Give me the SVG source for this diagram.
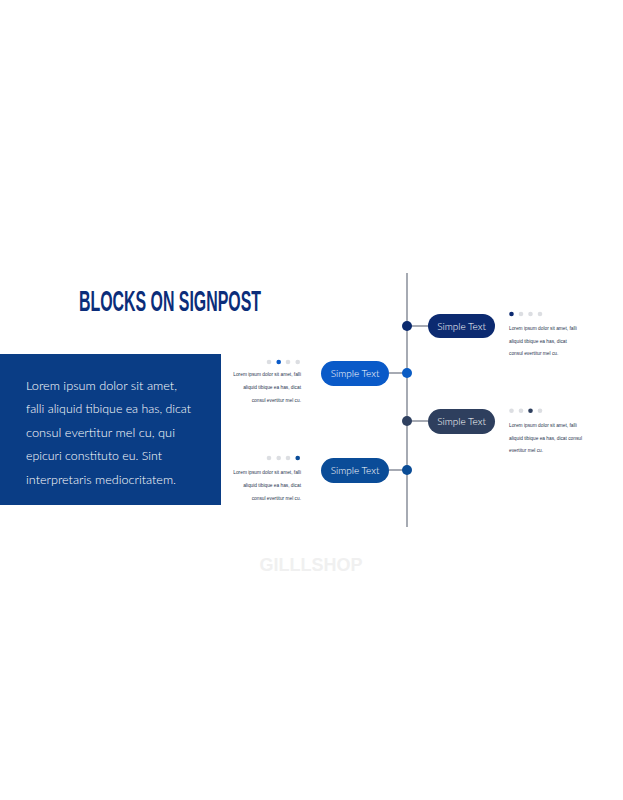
<svg xmlns="http://www.w3.org/2000/svg" width="623" height="800" viewBox="0 0 623 800">
<style>
.title{font-family:"Liberation Sans",Arial,sans-serif;font-weight:bold;font-size:30px;fill:#0b2d7a}
.body{font-family:Lato,"Liberation Sans",sans-serif;font-weight:300;font-size:12.5px;fill:#ffffff}
.pill{font-family:Lato,"Liberation Sans",sans-serif;font-weight:300;font-size:10px;fill:#ffffff}
.small{font-family:"Liberation Sans",Arial,sans-serif;font-size:4.8px;fill:#2a3550}
.gray{fill:#dcdee2}
.wm{font-family:"Liberation Sans",Arial,sans-serif;font-weight:bold;font-size:18px;fill:#f0f0f0}
.conn{stroke:#6b7280;stroke-width:1.2;fill:none}
</style>
<rect width="623" height="800" fill="#ffffff"/>
<text class="title" x="79" y="311" textLength="182" lengthAdjust="spacingAndGlyphs">BLOCKS ON SIGNPOST</text>
<g id="intro">
<rect x="0" y="354" width="221" height="151" fill="#0a3d85"/>
<text class="body" x="26" y="390" textLength="151" lengthAdjust="spacingAndGlyphs">Lorem ipsum dolor sit amet,</text>
<text class="body" x="26" y="413" textLength="165" lengthAdjust="spacingAndGlyphs">falli aliquid tibique ea has, dicat</text>
<text class="body" x="26" y="437" textLength="149" lengthAdjust="spacingAndGlyphs">consul evertitur mel cu, qui</text>
<text class="body" x="26" y="460" textLength="136" lengthAdjust="spacingAndGlyphs">epicuri constituto eu. Sint</text>
<text class="body" x="26" y="484" textLength="150" lengthAdjust="spacingAndGlyphs">interpretaris mediocritatem.</text>
</g>
<g id="connectors">
<line class="conn" x1="407" y1="273" x2="407" y2="527"/>
<line class="conn" x1="407" y1="326" x2="428" y2="326"/>
<line class="conn" x1="389" y1="373" x2="407" y2="373"/>
<line class="conn" x1="407" y1="421" x2="428" y2="421"/>
<line class="conn" x1="389" y1="470" x2="407" y2="470"/>
<circle cx="407" cy="326" r="5" fill="#0b2a6e"/>
<circle cx="407" cy="373" r="5" fill="#0a5cc4"/>
<circle cx="407" cy="421" r="5" fill="#2f4060"/>
<circle cx="407" cy="470" r="5" fill="#0a4c96"/>
</g>
<g id="node1">
<rect x="428" y="314" width="67" height="24" rx="12" fill="#0c2a70"/>
<text class="pill" x="461.5" y="329.5" text-anchor="middle">Simple Text</text>
<circle cx="511.5" cy="314" r="2.3" fill="#0c2a70"/>
<circle class="gray" cx="521" cy="314" r="2.3"/>
<circle class="gray" cx="530.5" cy="314" r="2.3"/>
<circle class="gray" cx="540" cy="314" r="2.3"/>
<text class="small" x="509" y="330">Lorem ipsum dolor sit amet, falli</text>
<text class="small" x="509" y="343">aliquid tibique ea has, dicat</text>
<text class="small" x="509" y="355">consul evertitur mel cu.</text>
</g>
<g id="node2">
<rect x="321" y="361" width="68" height="25" rx="12.5" fill="#0a5ac8"/>
<text class="pill" x="355" y="377" text-anchor="middle">Simple Text</text>
<circle class="gray" cx="269" cy="362" r="2.3"/>
<circle cx="278.7" cy="362" r="2.3" fill="#0a5ac8"/>
<circle class="gray" cx="288" cy="362" r="2.3"/>
<circle class="gray" cx="297.7" cy="362" r="2.3"/>
<text class="small" x="301" y="376" text-anchor="end">Lorem ipsum dolor sit amet, falli</text>
<text class="small" x="301" y="389" text-anchor="end">aliquid tibique ea has, dicat</text>
<text class="small" x="301" y="402" text-anchor="end">consul evertitur mel cu.</text>
</g>
<g id="node3">
<rect x="428" y="409" width="67" height="25" rx="12.5" fill="#2e3f5e"/>
<text class="pill" x="461.5" y="425" text-anchor="middle">Simple Text</text>
<circle class="gray" cx="511.5" cy="410.7" r="2.3"/>
<circle class="gray" cx="521" cy="410.7" r="2.3"/>
<circle cx="530.5" cy="410.7" r="2.3" fill="#2e3f5e"/>
<circle class="gray" cx="540" cy="410.7" r="2.3"/>
<text class="small" x="509" y="427">Lorem ipsum dolor sit amet, falli</text>
<text class="small" x="509" y="439.5">aliquid tibique ea has, dicat consul</text>
<text class="small" x="509" y="451.5">evertitur mel cu.</text>
</g>
<g id="node4">
<rect x="321" y="458" width="68" height="25" rx="12.5" fill="#0a4c98"/>
<text class="pill" x="355" y="474" text-anchor="middle">Simple Text</text>
<circle class="gray" cx="269" cy="458" r="2.3"/>
<circle class="gray" cx="278.7" cy="458" r="2.3"/>
<circle class="gray" cx="288" cy="458" r="2.3"/>
<circle cx="297.7" cy="458" r="2.3" fill="#0a4c98"/>
<text class="small" x="301" y="474" text-anchor="end">Lorem ipsum dolor sit amet, falli</text>
<text class="small" x="301" y="487" text-anchor="end">aliquid tibique ea has, dicat</text>
<text class="small" x="301" y="500" text-anchor="end">consul evertitur mel cu.</text>
</g>
<text class="wm" x="311" y="571" text-anchor="middle">GILLLSHOP</text>
</svg>
